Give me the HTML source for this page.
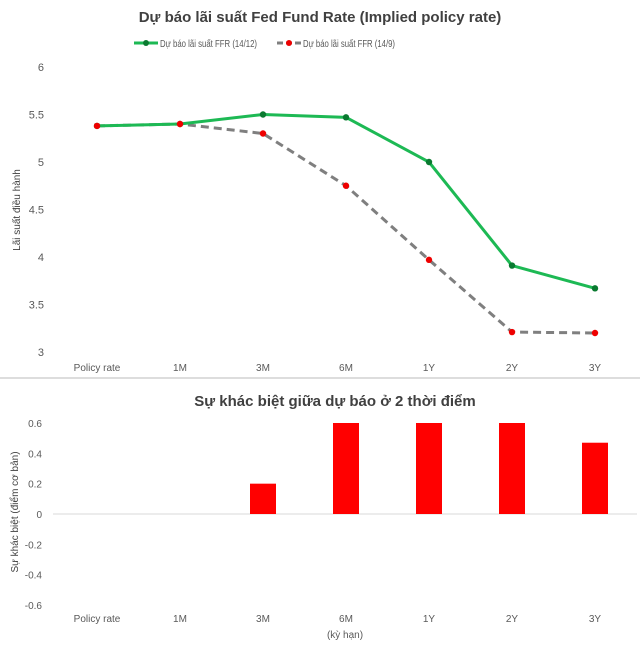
<!DOCTYPE html>
<html><head><meta charset="utf-8"><style>
body{margin:0;background:#fff;font-family:"Liberation Sans",sans-serif}
svg text{font-family:"Liberation Sans",sans-serif}
</style></head><body>
<svg id="s" width="640" height="648" xmlns="http://www.w3.org/2000/svg">
<text x="320" y="22" text-anchor="middle" font-size="15" font-weight="bold" fill="#404040">Dự báo lãi suất Fed Fund Rate (Implied policy rate)</text>
<g>
<g><line x1="134" y1="43" x2="158" y2="43" stroke="#1db954" stroke-width="3"/><circle cx="146" cy="43" r="3" fill="#0a7a30"/><text x="160" y="47" font-size="10" fill="#595959" textLength="97" lengthAdjust="spacingAndGlyphs">Dự báo lãi suất FFR (14/12)</text></g>
<g><line x1="277" y1="43" x2="301" y2="43" stroke="#7f7f7f" stroke-width="3" stroke-dasharray="6,3"/><circle cx="289" cy="43" r="3" fill="#e00"/><text x="303" y="47" font-size="10" fill="#595959" textLength="92" lengthAdjust="spacingAndGlyphs">Dự báo lãi suất FFR (14/9)</text></g>
</g>
<text transform="translate(20,210) rotate(-90)" text-anchor="middle" font-size="10" fill="#404040">Lãi suất điều hành</text>
<g id="topg"></g>
<line x1="0" y1="378" x2="640" y2="378" stroke="#ddd" stroke-width="2"/>
<text x="335" y="406" text-anchor="middle" font-size="15" font-weight="bold" fill="#404040">Sự khác biệt giữa dự báo ở 2 thời điểm</text>
<text transform="translate(18,512) rotate(-90)" text-anchor="middle" font-size="10" fill="#404040">Sự khác biệt (điểm cơ bản)</text>
<text x="345" y="638" text-anchor="middle" font-size="10" fill="#595959">(kỳ hạn)</text>
<g id="botg"></g>
</svg>
<script>
const categories=["Policy rate","1M","3M","6M","1Y","2Y","3Y"];
const seriesDec=[5.38,5.40,5.50,5.47,5.00,3.91,3.67];
const seriesSep=[5.38,5.40,5.30,4.75,3.97,3.21,3.20];
const topTicks=["3","3.5","4","4.5","5","5.5","6"];
const diffValues=[0,0,0.2,0.6,0.6,0.6,0.47];
const botTicks=["-0.6","-0.4","-0.2","0","0.2","0.4","0.6"];
const NS="http://www.w3.org/2000/svg";
function mk(p,t,a){const e=document.createElementNS(NS,t);for(const k in a)e.setAttribute(k,a[k]);p.appendChild(e);return e;}
const xs=i=>97+i*83;
const yT=v=>352-(v-3)*95;
const yB=v=>514-v*(91/0.6);
const gTop=document.getElementById('topg'),gBot=document.getElementById('botg');
topTicks.forEach(t=>{const e=mk(gTop,'text',{x:44,y:yT(+t)+4,'text-anchor':'end','font-size':11,fill:'#595959'});e.textContent=t;

});
categories.forEach((c,i)=>{const e=mk(gTop,'text',{x:xs(i),y:371,'text-anchor':'middle','font-size':10,fill:'#595959'});e.textContent=c;


const f=mk(gBot,'text',{x:xs(i),y:622,'text-anchor':'middle','font-size':10,fill:'#595959'});f.textContent=c;

});
const pSep=mk(gTop,'polyline',{points:seriesSep.map((v,i)=>xs(i)+','+yT(v)).join(' '),fill:'none',stroke:'#7f7f7f','stroke-width':3,'stroke-dasharray':'8,5'});


const pDec=mk(gTop,'polyline',{points:seriesDec.map((v,i)=>xs(i)+','+yT(v)).join(' '),fill:'none',stroke:'#1db954','stroke-width':3});


seriesDec.forEach((v,i)=>{const c=mk(gTop,'circle',{cx:xs(i),cy:yT(v),r:3.2,fill:'#0a7a30'});

});
seriesSep.forEach((v,i)=>{const c=mk(gTop,'circle',{cx:xs(i),cy:yT(v),r:3.2,fill:'#e00'});

});
botTicks.forEach(t=>{const e=mk(gBot,'text',{x:42,y:yB(+t)+4,'text-anchor':'end','font-size':10,fill:'#595959'});e.textContent=t;

});
const z=mk(gBot,'line',{x1:53,y1:yB(0),x2:637,y2:yB(0),stroke:'#d9d9d9','stroke-width':1});


diffValues.forEach((v,i)=>{const y0=yB(0),y1=yB(v);const r=mk(gBot,'rect',{x:xs(i)-13,y:Math.min(y0,y1),width:26,height:Math.abs(y0-y1),fill:'#ff0000'});

});
</script>
</body></html>
